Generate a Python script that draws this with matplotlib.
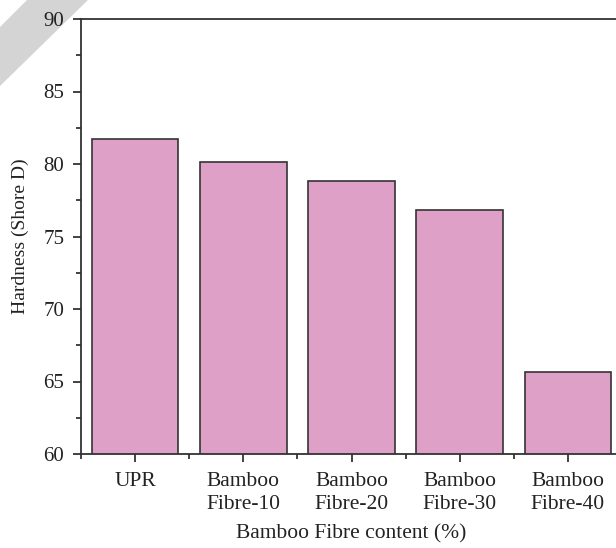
import matplotlib.pyplot as plt
from matplotlib.patches import Polygon
from matplotlib.ticker import MultipleLocator

categories = ['UPR', 'Bamboo\nFibre-10', 'Bamboo\nFibre-20', 'Bamboo\nFibre-30', 'Bamboo\nFibre-40']
hardness = [81.7, 80.15, 78.8, 76.8, 65.65]

plt.rcParams['font.family'] = ['Liberation Serif', 'DejaVu Serif']
plt.rcParams['font.size'] = 15

fig = plt.figure(figsize=(6.16, 5.48), dpi=100, facecolor='white')
ax = fig.add_axes([81 / 616, 1 - 454 / 548, 541 / 616, 435 / 548])

x = range(len(categories))
ax.bar(x, hardness, width=0.8, color='#dfa0c8', edgecolor='#333333', linewidth=1.2, zorder=2)

ax.set_xlim(-0.5, 4.5)
ax.set_ylim(60, 90)
ax.set_xticks(list(x))
ax.set_xticklabels(categories, linespacing=1.3, fontsize=15.5)
ax.xaxis.set_minor_locator(MultipleLocator(1, offset=0.5))
ax.yaxis.set_major_locator(MultipleLocator(5))
ax.yaxis.set_minor_locator(MultipleLocator(2.5))
ax.tick_params(which='major', direction='out', length=6, width=1.2, colors='#222222', pad=6)
ax.tick_params(which='minor', direction='out', length=3.5, width=1.2, colors='#222222')
ax.tick_params(axis='x', which='major', pad=7)
for s in ax.spines.values():
    s.set_linewidth(1.3)
    s.set_color('#333333')

ax.set_ylabel('Hardness (Shore D)', labelpad=10, color='#222222', fontsize=14)
ax.set_xlabel('Bamboo Fibre content (%)', labelpad=7, color='#222222', fontsize=15.5)

# grey corner band
band = Polygon([(27 / 616, 1.0), (88 / 616, 1.0), (0.0, 1 - 86 / 548), (0.0, 1 - 27 / 548)],
               closed=True, transform=fig.transFigure, facecolor='#d4d4d4', edgecolor='none', zorder=-1)
fig.patches.append(band)

fig.savefig('out.png', dpi=100)
